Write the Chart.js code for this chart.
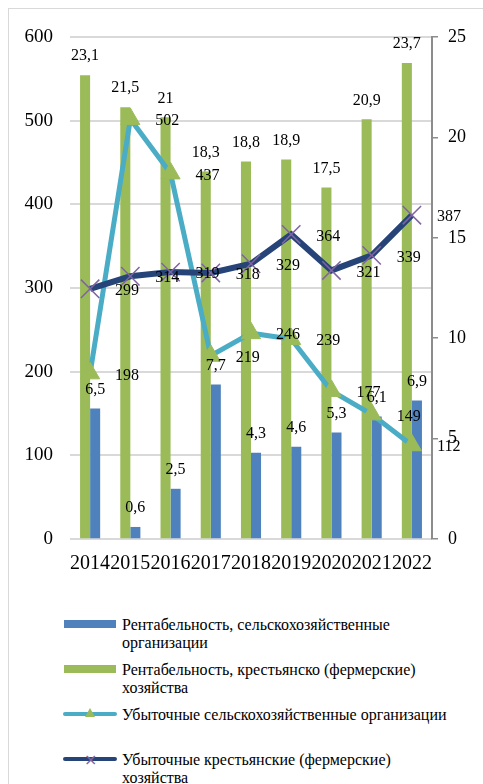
<!DOCTYPE html>
<html lang="ru">
<head>
<meta charset="utf-8">
<title>Рентабельность и убыточные хозяйства</title>
<script src="https://cdn.jsdelivr.net/npm/chart.js@4.4.1/dist/chart.umd.min.js"></script>
<style>
  html, body { margin: 0; padding: 0; background: #fff; overflow: hidden; }
  body { width: 483px; height: 784px; position: relative; font-family: "Liberation Serif", Tinos, "Times New Roman", serif; color: #000; }
  .frame { position: absolute; left: 8px; top: 8px; width: 520px; height: 820px; border: 1px solid #D9D9D9; }
  #chart { position: absolute; left: 0; top: 0; }
  .legend { position: absolute; left: 63px; top: 616px; }
  .item { display: flex; height: 45px; font-size: 16px; line-height: 18px; }
  .swatch { width: 54px; height: 18px; flex: none; position: relative; margin-right: 5px; }
  .swatch .bar { position: absolute; left: 1px; right: 1px; top: 4px; height: 8px; }
  .swatch .line { position: absolute; left: 0; right: 0; top: 6px; height: 4px; border-radius: 2px; }
  .swatch .tri { position: absolute; left: 22px; top: 2px; width: 0; height: 0;
    border-left: 5px solid transparent; border-right: 5px solid transparent; border-bottom: 9px solid #9BBB59; }
  .swatch .cross { position: absolute; left: 21px; top: -1px; width: 12px; text-align: center; font: 16px "DejaVu Sans", sans-serif; color: #8064A2; }
</style>
</head>
<body>
<div class="frame"></div>
<canvas id="chart" width="483" height="600"></canvas>
<div class="legend" id="legend"></div>
<script>
// years along the bottom axis
const years = ['2014', '2015', '2016', '2017', '2018', '2019', '2020', '2021', '2022'];

// profitability, % (right axis)
const profitAgroOrgs = [6.5, 0.6, 2.5, 7.7, 4.3, 4.6, 5.3, 6.1, 6.9];
const profitFarms = [23.1, 21.5, 21, 18.3, 18.8, 18.9, 17.5, 20.9, 23.7];

// loss-making units, count (left axis)
const lossAgroOrgs = [198, 502, 437, 219, 246, 239, 177, 149, 112];
const lossFarms = [299, 314, 319, 318, 329, 364, 321, 339, 387];

const leftTicks = [0, 100, 200, 300, 400, 500, 600];
const rightTicks = [0, 5, 10, 15, 20, 25];

const seriesNames = [
    'Рентабельность, сельскохозяйственные организации',
    'Рентабельность, крестьянско (фермерские) хозяйства',
    'Убыточные сельскохозяйственные организации',
    'Убыточные крестьянские (фермерские) хозяйства'
];

const FONT = '"Liberation Serif", Tinos, "Times New Roman", serif';

// numbers printed next to every bar and point
const valueLabels = {
    id: 'valueLabels',
    afterDatasetsDraw(chart) {
        const ctx = chart.ctx;
        ctx.save();
        ctx.font = '16px ' + FONT;
        ctx.fillStyle = '#000';
        ctx.textAlign = 'center';
        ctx.textBaseline = 'middle';
        chart.data.datasets.forEach((ds, di) => {
            const meta = chart.getDatasetMeta(di);
            meta.data.forEach((el, i) => {
                const text = String(ds.data[i]).replace('.', ',');
                if (ds.type === 'bar') {
                    ctx.fillText(text, el.x, el.y - 19);
                } else {
                    ctx.fillText(text, el.x + 37, el.y + 2);
                }
            });
        });
        ctx.restore();
    }
};

new Chart(document.getElementById('chart'), {
    data: {
        labels: years,
        datasets: [{
            type: 'bar',
            label: seriesNames[0],
            data: profitAgroOrgs,
            yAxisID: 'y1',
            backgroundColor: '#4F81BD',
            categoryPercentage: 0.5,
            barPercentage: 1,
            order: 4
        }, {
            type: 'bar',
            label: seriesNames[1],
            data: profitFarms,
            yAxisID: 'y1',
            backgroundColor: '#9BBB59',
            categoryPercentage: 0.5,
            barPercentage: 1,
            order: 3
        }, {
            type: 'line',
            label: seriesNames[2],
            data: lossAgroOrgs,
            yAxisID: 'y',
            borderColor: '#4BACC6',
            borderWidth: 5,
            tension: 0,
            pointStyle: 'triangle',
            pointRadius: 11,
            pointBackgroundColor: '#9BBB59',
            pointBorderColor: '#9BBB59',
            pointBorderWidth: 1,
            order: 2
        }, {
            type: 'line',
            label: seriesNames[3],
            data: lossFarms,
            yAxisID: 'y',
            borderColor: '#264478',
            borderWidth: 6,
            tension: 0,
            pointStyle: 'crossRot',
            pointRadius: 13,
            pointBorderColor: '#8064A2',
            pointBorderWidth: 1.5,
            order: 1
        }]
    },
    options: {
        responsive: false,
        animation: false,
        layout: { padding: { left: 0, right: 0, top: 37, bottom: 0 } },
        plugins: {
            legend: { display: false },
            tooltip: { enabled: false }
        },
        scales: {
            x: {
                grid: { display: false },
                border: { display: false },
                ticks: {
                    color: '#000',
                    font: { family: FONT, size: 20 },
                    padding: 5,
                    maxRotation: 0,
                    autoSkip: false
                },
                afterFit: scale => { scale.height = 61; }
            },
            y: {
                position: 'left',
                min: leftTicks[0],
                max: leftTicks[leftTicks.length - 1],
                afterBuildTicks: scale => { scale.ticks = leftTicks.map(v => ({ value: v })); },
                grid: { color: '#D9D9D9', lineWidth: 2, drawTicks: false },
                border: { display: false },
                ticks: {
                    color: '#000',
                    font: { family: FONT, size: 19 },
                    padding: 17
                },
                afterFit: scale => { scale.width = 70; }
            },
            y1: {
                position: 'right',
                min: rightTicks[0],
                max: rightTicks[rightTicks.length - 1],
                afterBuildTicks: scale => { scale.ticks = rightTicks.map(v => ({ value: v })); },
                grid: { drawOnChartArea: false, color: '#8C8C8C', tickLength: 6, lineWidth: 1.5 },
                border: { display: true, color: '#8C8C8C', width: 2 },
                ticks: {
                    color: '#000',
                    font: { family: FONT, size: 18 },
                    padding: 10
                },
                afterFit: scale => { scale.width = 51; }
            }
        }
    },
    plugins: [valueLabels]
});

// legend below the chart; text widths set where each entry wraps
const swatches = [
    '<div class="bar" style="background:#4F81BD"></div>',
    '<div class="bar" style="background:#9BBB59"></div>',
    '<div class="line" style="background:#4BACC6"></div><div class="tri"></div>',
    '<div class="line" style="background:#264478"></div><div class="cross">×</div>'
];
const textWidths = [340, 340, 350, 320];
const legend = document.getElementById('legend');
seriesNames.forEach((name, i) => {
    const item = document.createElement('div');
    item.className = 'item';
    item.innerHTML = '<div class="swatch">' + swatches[i] + '</div><div class="text"></div>';
    const text = item.querySelector('.text');
    text.textContent = name;
    text.style.width = textWidths[i] + 'px';
    legend.appendChild(item);
});
</script>
</body>
</html>
